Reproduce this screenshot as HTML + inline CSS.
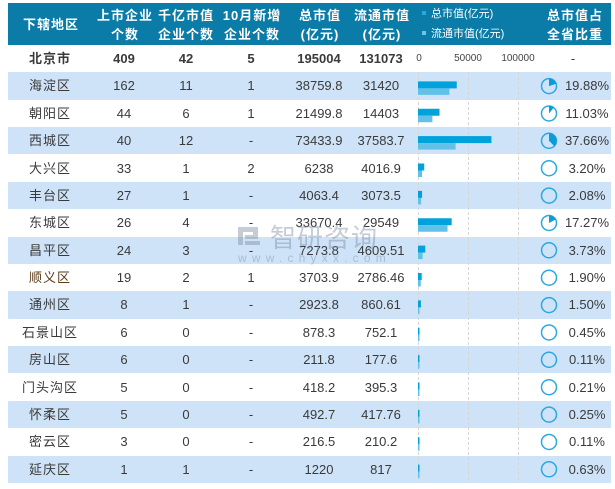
<!DOCTYPE html>
<html><head><meta charset="utf-8">
<style>
*{margin:0;padding:0;box-sizing:border-box}
html,body{width:615px;height:489px;background:#fff;overflow:hidden}
body{position:relative;font-family:"Liberation Sans","Noto Sans CJK SC",sans-serif;color:#3a3a3a}
.hdr{position:absolute;left:8px;top:3px;width:603px;height:42px;background:#0b7ba7}
.h{position:absolute;color:#fff;font-size:13px;font-weight:bold;text-align:center;line-height:19px;letter-spacing:1px;top:5.5px}
.row{position:absolute;left:8px;width:603px;height:27.4px}
.b{background:#cee3f8}
.row span{position:absolute;top:0;line-height:27.4px;font-size:13px;text-align:center;white-space:nowrap}
.c1{left:0;width:84px;letter-spacing:1px}
.c2{left:86px;width:60px}
.c3{left:148px;width:60px}
.c4{left:213px;width:60px}
.c5{left:276px;width:70px}
.c6{left:338px;width:70px}
.c7{left:554px;width:50px}
.bold span{font-weight:bold}
.ax{font-size:10px !important;color:#444}
svg{position:absolute;left:0;top:0}
.lg{position:absolute;color:#fff;font-size:11px;line-height:12px;white-space:nowrap}
.sq{position:absolute;width:4px;height:4px}
</style></head><body>
<div class="hdr"></div>
<div class="h" style="left:11px;width:80px;top:14.5px">下辖地区</div>
<div class="h" style="left:94px;width:62px">上市企业<br>个数</div>
<div class="h" style="left:152px;width:68px">千亿市值<br>企业个数</div>
<div class="h" style="left:218px;width:68px">10月新增<br>企业个数</div>
<div class="h" style="left:285px;width:70px">总市值<br>(亿元)</div>
<div class="h" style="left:347px;width:70px">流通市值<br>(亿元)</div>
<div class="h" style="left:540px;width:70px">总市值占<br>全省比重</div>
<div class="sq" style="left:422px;top:11px;background:#2aa6de"></div>
<div class="lg" style="left:431px;top:7.5px">总市值(亿元)</div>
<div class="sq" style="left:422px;top:31px;background:#6cc6ec"></div>
<div class="lg" style="left:431px;top:28px">流通市值(亿元)</div>

<div class="row bold" style="top:45px"><span class="c1">北京市</span><span class="c2">409</span><span class="c3">42</span><span class="c4">5</span><span class="c5">195004</span><span class="c6">131073</span>
<span class="ax" style="left:406px;width:10px;font-weight:normal">0</span><span class="ax" style="left:440px;width:40px;font-weight:normal">50000</span><span class="ax" style="left:486px;width:48px;font-weight:normal">100000</span><span class="c7" style="font-weight:normal;left:540px;width:50px">-</span></div>
<div class="row b" style="top:72.4px"><span class="c1">海淀区</span><span class="c2">162</span><span class="c3">11</span><span class="c4">1</span><span class="c5">38759.8</span><span class="c6">31420</span><span class="c7">19.88%</span></div>
<div class="row" style="top:99.75px"><span class="c1">朝阳区</span><span class="c2">44</span><span class="c3">6</span><span class="c4">1</span><span class="c5">21499.8</span><span class="c6">14403</span><span class="c7">11.03%</span></div>
<div class="row b" style="top:127.1px"><span class="c1">西城区</span><span class="c2">40</span><span class="c3">12</span><span class="c4">-</span><span class="c5">73433.9</span><span class="c6">37583.7</span><span class="c7">37.66%</span></div>
<div class="row" style="top:154.5px"><span class="c1">大兴区</span><span class="c2">33</span><span class="c3">1</span><span class="c4">2</span><span class="c5">6238</span><span class="c6">4016.9</span><span class="c7">3.20%</span></div>
<div class="row b" style="top:181.9px"><span class="c1">丰台区</span><span class="c2">27</span><span class="c3">1</span><span class="c4">-</span><span class="c5">4063.4</span><span class="c6">3073.5</span><span class="c7">2.08%</span></div>
<div class="row" style="top:209.25px"><span class="c1">东城区</span><span class="c2">26</span><span class="c3">4</span><span class="c4">-</span><span class="c5">33670.4</span><span class="c6">29549</span><span class="c7">17.27%</span></div>
<div class="row b" style="top:236.6px"><span class="c1">昌平区</span><span class="c2">24</span><span class="c3">3</span><span class="c4">-</span><span class="c5">7273.8</span><span class="c6">4609.51</span><span class="c7">3.73%</span></div>
<div class="row" style="top:264px"><span class="c1" style="color:#5a3a1a">顺义区</span><span class="c2">19</span><span class="c3">2</span><span class="c4">1</span><span class="c5">3703.9</span><span class="c6">2786.46</span><span class="c7">1.90%</span></div>
<div class="row b" style="top:291.4px"><span class="c1">通州区</span><span class="c2">8</span><span class="c3">1</span><span class="c4">-</span><span class="c5">2923.8</span><span class="c6">860.61</span><span class="c7">1.50%</span></div>
<div class="row" style="top:318.75px"><span class="c1">石景山区</span><span class="c2">6</span><span class="c3">0</span><span class="c4">-</span><span class="c5">878.3</span><span class="c6">752.1</span><span class="c7">0.45%</span></div>
<div class="row b" style="top:346.1px"><span class="c1">房山区</span><span class="c2">6</span><span class="c3">0</span><span class="c4">-</span><span class="c5">211.8</span><span class="c6">177.6</span><span class="c7">0.11%</span></div>
<div class="row" style="top:373.5px"><span class="c1">门头沟区</span><span class="c2">5</span><span class="c3">0</span><span class="c4">-</span><span class="c5">418.2</span><span class="c6">395.3</span><span class="c7">0.21%</span></div>
<div class="row b" style="top:400.9px"><span class="c1">怀柔区</span><span class="c2">5</span><span class="c3">0</span><span class="c4">-</span><span class="c5">492.7</span><span class="c6">417.76</span><span class="c7">0.25%</span></div>
<div class="row" style="top:428.25px"><span class="c1">密云区</span><span class="c2">3</span><span class="c3">0</span><span class="c4">-</span><span class="c5">216.5</span><span class="c6">210.2</span><span class="c7">0.11%</span></div>
<div class="row b" style="top:455.6px"><span class="c1">延庆区</span><span class="c2">1</span><span class="c3">1</span><span class="c4">-</span><span class="c5">1220</span><span class="c6">817</span><span class="c7">0.63%</span></div>

<svg width="615" height="489" viewBox="0 0 615 489">
<g stroke="#d6d6d6" stroke-width="1" stroke-dasharray="3,2">
<line x1="418.5" y1="72" x2="418.5" y2="483"/>
<line x1="468.5" y1="72" x2="468.5" y2="483"/>
<line x1="518.5" y1="72" x2="518.5" y2="483"/>
</g>
<g fill="#00a2dc">
<rect x="418" y="81.4" width="38.76" height="7"/>
<rect x="418" y="108.75" width="21.5" height="7"/>
<rect x="418" y="136.1" width="73.43" height="7"/>
<rect x="418" y="163.5" width="6.24" height="7"/>
<rect x="418" y="190.9" width="4.06" height="7"/>
<rect x="418" y="218.25" width="33.67" height="7"/>
<rect x="418" y="245.6" width="7.27" height="7"/>
<rect x="418" y="273" width="3.7" height="7"/>
<rect x="418" y="300.4" width="2.92" height="7"/>
<rect x="418" y="327.75" width="1.5" height="7"/>
<rect x="418" y="355.1" width="1.5" height="7"/>
<rect x="418" y="382.5" width="1.5" height="7"/>
<rect x="418" y="409.9" width="1.5" height="7"/>
<rect x="418" y="437.25" width="1.5" height="7"/>
<rect x="418" y="464.6" width="1.5" height="7"/>
</g>
<g fill="#63c1e8">
<rect x="418" y="88.4" width="31.42" height="6.5"/>
<rect x="418" y="115.75" width="14.4" height="6.5"/>
<rect x="418" y="143.1" width="37.58" height="6.5"/>
<rect x="418" y="170.5" width="4.02" height="6.5"/>
<rect x="418" y="197.9" width="3.07" height="6.5"/>
<rect x="418" y="225.25" width="29.55" height="6.5"/>
<rect x="418" y="252.6" width="4.61" height="6.5"/>
<rect x="418" y="280" width="2.79" height="6.5"/>
<rect x="418" y="307.4" width="1.5" height="6.5"/>
<rect x="418" y="334.75" width="1.5" height="6.5"/>
<rect x="418" y="362.1" width="1.5" height="6.5"/>
<rect x="418" y="389.5" width="1.5" height="6.5"/>
<rect x="418" y="416.9" width="1.5" height="6.5"/>
<rect x="418" y="444.25" width="1.5" height="6.5"/>
<rect x="418" y="471.6" width="1.5" height="6.5"/>
</g>
<g fill="none" stroke="#2aa8e0" stroke-width="1.5">
<circle cx="549" cy="86.1" r="7.5"/>
<circle cx="549" cy="113.45" r="7.5"/>
<circle cx="549" cy="140.8" r="7.5"/>
<circle cx="549" cy="168.2" r="7.5"/>
<circle cx="549" cy="195.6" r="7.5"/>
<circle cx="549" cy="222.95" r="7.5"/>
<circle cx="549" cy="250.3" r="7.5"/>
<circle cx="549" cy="277.7" r="7.5"/>
<circle cx="549" cy="305.1" r="7.5"/>
<circle cx="549" cy="332.45" r="7.5"/>
<circle cx="549" cy="359.8" r="7.5"/>
<circle cx="549" cy="387.2" r="7.5"/>
<circle cx="549" cy="414.6" r="7.5"/>
<circle cx="549" cy="441.95" r="7.5"/>
<circle cx="549" cy="469.3" r="7.5"/>
</g>
<g fill="#0a9cd9">
<path d="M549,86.1 L549,78.6 A7.5,7.5 0 0 1 556.12,83.73 Z"/>
<path d="M549,113.45 L549,105.95 A7.5,7.5 0 0 1 553.79,107.68 Z"/>
<path d="M549,140.8 L549,133.3 A7.5,7.5 0 0 1 554.25,146.16 Z"/>
<path d="M549,222.95 L549,215.45 A7.5,7.5 0 0 1 555.63,219.45 Z"/>
</g>
<g opacity="0.45" fill="#7d8fa8">
<rect x="238" y="227" width="20" height="5"/>
<rect x="238" y="227" width="5" height="18"/>
<rect x="253" y="227" width="5" height="10"/>
<rect x="245" y="235" width="13" height="4"/>
<rect x="245" y="241" width="15" height="4"/>
<text x="270" y="247" font-family="Noto Sans CJK SC, sans-serif" font-size="26" letter-spacing="1">智研咨询</text>
<text x="238" y="262" font-family="Liberation Sans, sans-serif" font-size="12" letter-spacing="5.2">www.chyxx.com</text>
</g>
</svg>
</body></html>
